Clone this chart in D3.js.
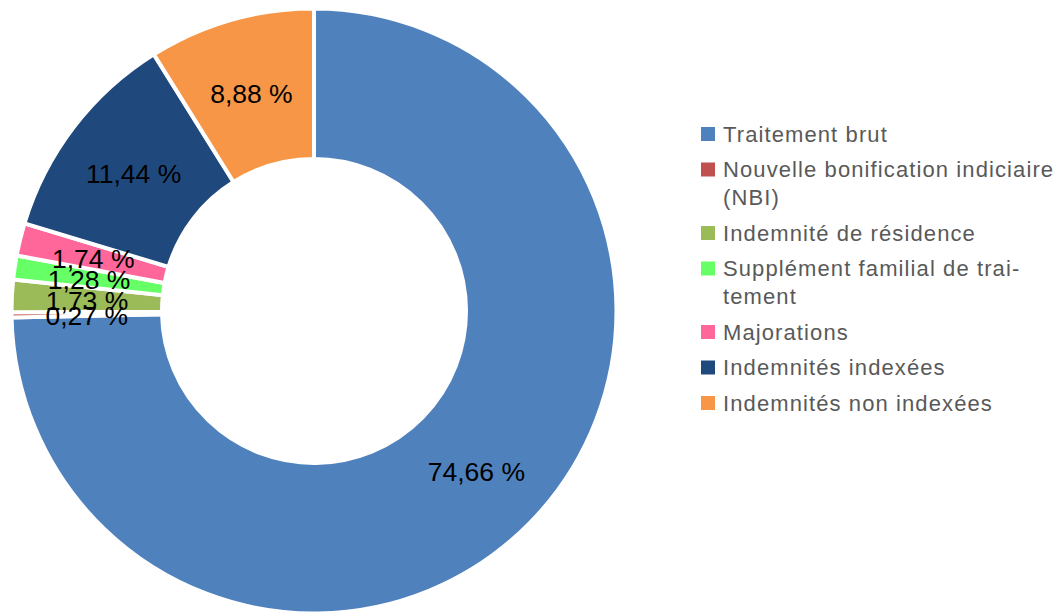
<!DOCTYPE html>
<html>
<head>
<meta charset="utf-8">
<script src="https://cdn.jsdelivr.net/npm/d3@7"></script>
<style>
  body { margin: 0; background: #fff; }
</style>
</head>
<body>
<div id="donut"></div>
<script>
// Data
const categories = [
  "Traitement brut",
  "Nouvelle bonification indiciaire (NBI)",
  "Indemnité de résidence",
  "Supplément familial de traitement",
  "Majorations",
  "Indemnités indexées",
  "Indemnités non indexées"
];
const values = [74.66, 0.27, 1.73, 1.28, 1.74, 11.44, 8.88];
const colors = ["#4f81bd", "#c0504d", "#9bbb59", "#66ff66", "#ff6699", "#1f497d", "#f79646"];
// legend lines as wrapped in the original
const legendLines = [
  ["Traitement brut"],
  ["Nouvelle bonification indiciaire", "(NBI)"],
  ["Indemnité de résidence"],
  ["Supplément familial de trai-", "tement"],
  ["Majorations"],
  ["Indemnités indexées"],
  ["Indemnités non indexées"]
];

const width = 1058, height = 613;
const cx = 314, cy = 311;

const svg = d3.select("#donut")
  .append("svg")
  .attr("width", width)
  .attr("height", height);

const g = svg.append("g")
  .attr("transform", `translate(${cx},${cy})`);

const pie = d3.pie()
  .sort(null)
  .value(d => d);

const arc = d3.arc()
  .innerRadius(152)
  .outerRadius(302.5);

const arcs = pie(values);

// slices
g.selectAll("path")
  .data(arcs)
  .join("path")
  .attr("d", arc)
  .attr("fill", (d, i) => colors[i])
  .attr("stroke", "#fff")
  .attr("stroke-width", 4)
  .attr("stroke-linejoin", "miter");

// value labels
const fmt = v => v.toFixed(2).replace(".", ",") + " %";
g.selectAll("text.value")
  .data(arcs)
  .join("text")
  .attr("class", "value")
  .attr("transform", d => `translate(${arc.centroid(d)})`)
  .attr("text-anchor", "middle")
  .attr("dy", "0.4em")
  .style("font-family", "'Liberation Sans', Arial, sans-serif")
  .style("font-size", "26.5px")
  .style("fill", "#000")
  .text(d => fmt(d.data));

// legend
const legend = svg.append("g")
  .attr("transform", "translate(701,127)");

let yPos = 0;
legendLines.forEach((lines, i) => {
  const item = legend.append("g")
    .attr("transform", `translate(0,${yPos})`);
  item.append("rect")
    .attr("width", 14)
    .attr("height", 14)
    .attr("fill", colors[i]);
  lines.forEach((line, j) => {
    item.append("text")
      .attr("x", 22)
      .attr("y", 14.5 + j * 28)
      .style("font-family", "'Liberation Sans', Arial, sans-serif")
      .style("font-size", "22px")
      .style("letter-spacing", "1.1px")
      .style("fill", "#595959")
      .text(line);
  });
  yPos += 35.5 + (lines.length - 1) * 28;
});
</script>
</body>
</html>
